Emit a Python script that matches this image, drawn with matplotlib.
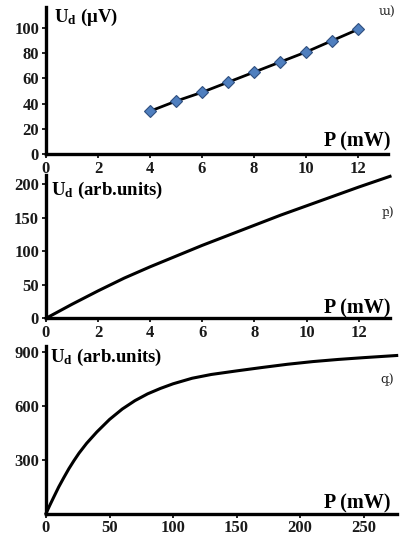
import matplotlib
matplotlib.use("Agg")
import matplotlib.pyplot as plt
from matplotlib.ticker import FixedLocator

plt.rcParams['font.family'] = ['Liberation Serif', 'DejaVu Serif']
plt.rcParams['font.weight'] = 'bold'
plt.rcParams['mathtext.fontset'] = 'custom'
plt.rcParams['mathtext.rm'] = 'Liberation Serif:bold'
plt.rcParams['mathtext.it'] = 'Liberation Serif:bold'
plt.rcParams['mathtext.default'] = 'rm'

# Panel a (measured points)
p_a = [4, 5, 6, 7, 8, 9, 10, 11, 12]
u_a = [34, 42, 49, 57, 65, 73, 81, 90, 99]
xt_a = [0, 2, 4, 6, 8, 10, 12]
yt_a = [0, 20, 40, 60, 80, 100]

# Panel b (curve)
p_b = [0, 1, 2, 3, 4, 5, 6, 7, 8, 9, 10, 11, 12, 13.2]
u_b = [0, 21, 41, 60, 77, 93, 109, 124, 139, 154, 168, 182, 196, 212]
xt_b = [0, 2, 4, 6, 8, 10, 12]
yt_b = [0, 50, 100, 150, 200]

# Panel c (curve)
p_c = [0, 3, 6, 10, 14, 18, 22, 26, 32, 40, 50, 60, 70, 80, 90, 100, 115,
       130, 150, 170, 190, 210, 230, 250, 276]
u_c = [0, 46, 90, 148, 200, 250, 295, 337, 392, 455, 525, 583, 630, 668,
       698, 724, 755, 776, 796, 815, 833, 848, 860, 870, 882]
xt_c = [0, 50, 100, 150, 200, 250]
yt_c = [300, 600, 900]

W, H = 400, 537
fig = plt.figure(figsize=(W / 100, H / 100), dpi=100)


def fx(x):
    return x / W


def fy(y):
    return 1 - y / H


def make_ax(left, right, top, bottom):
    ax = fig.add_axes([fx(left), fy(bottom), fx(right) - fx(left), fy(top) - fy(bottom)])
    for s in ['top', 'right']:
        ax.spines[s].set_visible(False)
    for s in ['left', 'bottom']:
        ax.spines[s].set_linewidth(2.4)
        ax.spines[s].set_color('black')
    ax.tick_params(direction='out', length=3, width=1.2, labelsize=12, pad=2)
    ax.set_facecolor('none')
    return ax


def style_labels(ax):
    for lab in ax.get_xticklabels() + ax.get_yticklabels():
        lab.set_fontweight('bold')
        lab.set_fontfamily('Liberation Serif')
        lab.set_color('#1a1a1a')


# Panel a
ax1 = make_ax(46, 388, 7.3, 154)
ax1.plot(p_a, u_a, color='black', lw=2.0, zorder=2)
ax1.plot(p_a, u_a, linestyle='none', marker='D', markersize=6.5,
         markerfacecolor='#4f7fbf', markeredgecolor='#2f4f7f', markeredgewidth=0.8, zorder=3)
ax1.set_xlim(0, 13.15)
ax1.set_ylim(0, 116.5)
ax1.xaxis.set_major_locator(FixedLocator(xt_a))
ax1.yaxis.set_major_locator(FixedLocator(yt_a))
style_labels(ax1)

# Panel b
ax2 = make_ax(46, 390, 175, 318.3)
ax2.plot(p_b, u_b, color='black', lw=2.2, clip_on=False)
ax2.set_xlim(0, 13.2)
ax2.set_ylim(0, 214)
ax2.xaxis.set_major_locator(FixedLocator(xt_b))
ax2.yaxis.set_major_locator(FixedLocator(yt_b))
style_labels(ax2)

# Panel c
ax3 = make_ax(46, 396.7, 346, 513.5)
ax3.plot(p_c, u_c, color='black', lw=2.2, clip_on=False)
ax3.set_xlim(0, 276)
ax3.set_ylim(0, 935)
ax3.xaxis.set_major_locator(FixedLocator(xt_c))
ax3.yaxis.set_major_locator(FixedLocator(yt_c))
style_labels(ax3)

# Axis titles
fig.text(fx(54), fy(17), r"U$_{\mathrm{d}}$ (μV)", fontsize=13.5, fontweight='bold',
         ha='left', va='center', family='Liberation Serif')
fig.text(fx(51), fy(190), r"U$_{\mathrm{d}}$ (arb.units)", fontsize=13.5, fontweight='bold',
         ha='left', va='center', family='Liberation Serif')
fig.text(fx(50), fy(357), r"U$_{\mathrm{d}}$ (arb.units)", fontsize=13.5, fontweight='bold',
         ha='left', va='center', family='Liberation Serif')

for yb in [146.7, 313, 508.3]:
    fig.text(fx(390), fy(yb), "P (mW)", fontsize=14.5, fontweight='bold',
             ha='right', va='baseline', family='Liberation Serif')

# Panel letters (Armenian)
for txt, x, y in [("ա)", 395, 12), ("բ)", 394, 213), ("գ)", 394, 380)]:
    fig.text(fx(x), fy(y), txt, fontsize=9, fontweight='normal', ha='right', va='center',
             family=['DejaVu Serif', 'DejaVu Sans'], color='#222222')

fig.savefig("out.png", dpi=100)
